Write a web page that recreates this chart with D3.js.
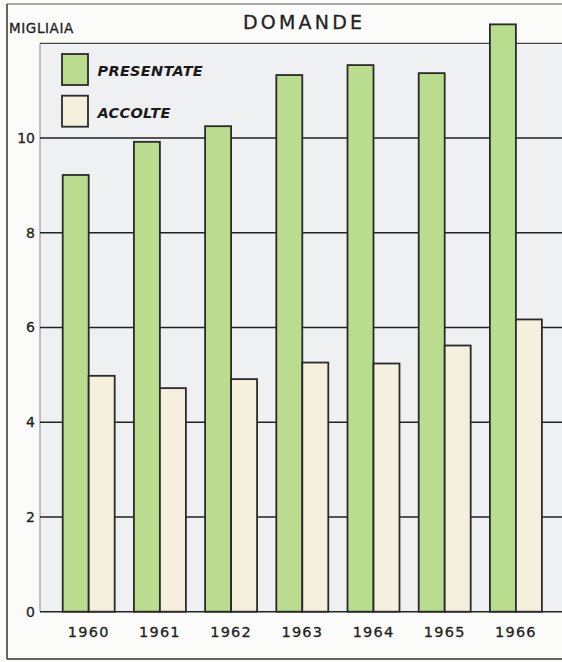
<!DOCTYPE html>
<html><head><meta charset="utf-8">
<script src="https://cdn.jsdelivr.net/npm/d3@7"></script>
<style>body{margin:0;background:#fbfbfa;}svg{display:block;}</style>
</head><body>
<svg id="c" width="562" height="662"></svg>
<script>
const years = ["1960","1961","1962","1963","1964","1965","1966"];
const presentate = [9.22, 9.92, 10.25, 11.33, 11.54, 11.37, 12.40];
const accolte = [4.98, 4.72, 4.91, 5.26, 5.24, 5.62, 6.17];
const yTicks = [0, 2, 4, 6, 8, 10];
const seriesNames = ["PRESENTATE", "ACCOLTE"];
const colors = ["#b9dc8e", "#f4f0dd"];

const svg = d3.select("#c");
const font = "'DejaVu Sans', sans-serif";
const plot = {left: 40, right: 562, top: 43.3, bottom: 611.7};

const y = d3.scaleLinear().domain([0, 12]).range([plot.bottom, plot.top]);
const x = d3.scaleBand().domain(years).range([40, 564.6]).paddingInner(0.27).paddingOuter(0.319);
const xs = d3.scaleBand().domain(seriesNames).range([0, x.bandwidth()]);

// outer frame
svg.append("rect").attr("x",0).attr("y",0).attr("width",562).attr("height",662).attr("fill","#fbfbfa");
svg.append("line").attr("x1",7).attr("x2",7).attr("y1",4).attr("y2",659).attr("stroke","#333").attr("stroke-width",1.5);
svg.append("line").attr("x1",7).attr("x2",562).attr("y1",4).attr("y2",4).attr("stroke","#555").attr("stroke-width",1.2);
svg.append("line").attr("x1",7).attr("x2",562).attr("y1",659).attr("y2",659).attr("stroke","#333").attr("stroke-width",1.5);

// plot background
svg.append("rect").attr("x",plot.left).attr("y",plot.top).attr("width",plot.right-plot.left).attr("height",plot.bottom-plot.top).attr("fill","#eef0f2");
svg.append("line").attr("x1",plot.left).attr("x2",plot.left).attr("y1",plot.top).attr("y2",plot.bottom).attr("stroke","#888").attr("stroke-width",1);

// gridlines
const grid = [...yTicks, 12];
svg.append("g").selectAll("line").data(grid).join("line")
  .attr("x1",plot.left).attr("x2",plot.right)
  .attr("y1",d=>y(d)).attr("y2",d=>y(d))
  .attr("stroke",d=>d===12?"#444":"#222").attr("stroke-width",d=>d===12?1.3:1.6);

// y axis labels
const yAxis = d3.axisLeft(y).tickValues(yTicks).tickSize(0).tickPadding(5);
const ga = svg.append("g").attr("transform",`translate(${plot.left},0)`).call(yAxis);
ga.select(".domain").remove();
ga.selectAll("text").attr("font-family",font).attr("font-size",14).attr("fill","#222")
  .attr("stroke","#222").attr("stroke-width",0.3);

// bars
const groups = svg.append("g").selectAll("g").data(years).join("g")
  .attr("transform",d=>`translate(${x(d)},0)`);
groups.selectAll("rect").data((d,i)=>[{s:0,v:presentate[i]},{s:1,v:accolte[i]}]).join("rect")
  .attr("x",d=>xs(seriesNames[d.s])).attr("width",xs.bandwidth())
  .attr("y",d=>y(d.v)).attr("height",d=>y(0)-y(d.v))
  .attr("fill",d=>colors[d.s]).attr("stroke","#2a2a2a").attr("stroke-width",1.8);

// x axis labels
const xAxis = d3.axisBottom(x).tickSize(0).tickPadding(15);
const gx = svg.append("g").attr("transform",`translate(0,${plot.bottom})`).call(xAxis);
gx.select(".domain").remove();
gx.selectAll("text").attr("font-family",font).attr("font-size",14.5).attr("fill","#222")
  .attr("letter-spacing","1.2").attr("stroke","#222").attr("stroke-width",0.3);

// titles
svg.append("text").attr("x",9).attr("y",33).text("MIGLIAIA")
  .attr("font-family",font).attr("font-size",13.5).attr("letter-spacing","0.6").attr("fill","#222")
  .attr("stroke","#222").attr("stroke-width",0.3);
svg.append("text").attr("x",243).attr("y",29).text("DOMANDE")
  .attr("font-family",font).attr("font-size",19).attr("letter-spacing","3.2").attr("fill","#222")
  .attr("stroke","#222").attr("stroke-width",0.3);

// legend
const leg = svg.append("g").selectAll("g").data(seriesNames).join("g")
  .attr("transform",(d,i)=>`translate(62,${54+i*41.7})`);
leg.append("rect").attr("width",26).attr("height",31)
  .attr("fill",(d,i)=>colors[i]).attr("stroke","#2a2a2a").attr("stroke-width",1.8);
leg.append("text").attr("x",35.5).attr("y",22).text(d=>d)
  .attr("font-family",font).attr("font-size",14.5).attr("font-style","italic").attr("font-weight","bold")
  .attr("letter-spacing","0.3").attr("fill","#1a1a1a");
</script>
</body></html>
